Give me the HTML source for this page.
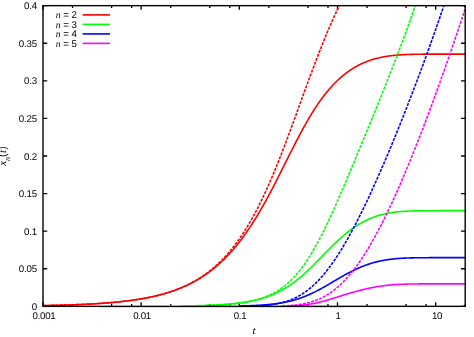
<!DOCTYPE html><html><head><meta charset="utf-8"><title>plot</title><style>
html,body{margin:0;padding:0;background:#fff}
#p{position:relative;width:474px;height:337px;overflow:hidden;background:#fff;font-family:"Liberation Sans",sans-serif;font-size:9.7px;color:#000;line-height:11px;text-rendering:geometricPrecision;will-change:transform}
.yl{position:absolute;left:0;width:37.0px;text-align:right;height:11px;letter-spacing:-0.15px;transform:rotate(0.02deg)}
.xl{position:absolute;top:311.1px;width:40px;text-align:center;height:11px;letter-spacing:-0.3px;transform:rotate(0.02deg)}
.lg{position:absolute;left:48.6px;width:28px;text-align:right;height:11px;white-space:nowrap;transform:rotate(0.02deg)}
.it{font-family:"Liberation Serif",serif;font-style:italic}
</style></head><body><div id="p">
<svg width="474" height="337" viewBox="0 0 474 337" style="position:absolute;left:0;top:0"><defs><clipPath id="c"><rect x="43.0" y="5.65" width="422.2" height="300.70000000000005"/></clipPath></defs><path d="M43.00,306.35 v-4.2 M43.00,5.65 v4.2 M72.55,306.35 v-2.4 M72.55,5.65 v2.4 M111.61,306.35 v-2.4 M111.61,5.65 v2.4 M131.65,306.35 v-2.4 M131.65,5.65 v2.4 M141.16,306.35 v-4.2 M141.16,5.65 v4.2 M170.71,306.35 v-2.4 M170.71,5.65 v2.4 M209.78,306.35 v-2.4 M209.78,5.65 v2.4 M229.81,306.35 v-2.4 M229.81,5.65 v2.4 M239.33,306.35 v-4.2 M239.33,5.65 v4.2 M268.87,306.35 v-2.4 M268.87,5.65 v2.4 M307.94,306.35 v-2.4 M307.94,5.65 v2.4 M327.97,306.35 v-2.4 M327.97,5.65 v2.4 M337.49,306.35 v-4.2 M337.49,5.65 v4.2 M367.04,306.35 v-2.4 M367.04,5.65 v2.4 M406.10,306.35 v-2.4 M406.10,5.65 v2.4 M426.14,306.35 v-2.4 M426.14,5.65 v2.4 M435.65,306.35 v-4.2 M435.65,5.65 v4.2 M465.20,306.35 v-2.4 M465.20,5.65 v2.4 M43.0,306.35 h4.2 M465.2,306.35 h-4.2 M43.0,268.76 h4.2 M465.2,268.76 h-4.2 M43.0,231.18 h4.2 M465.2,231.18 h-4.2 M43.0,193.59 h4.2 M465.2,193.59 h-4.2 M43.0,156.00 h4.2 M465.2,156.00 h-4.2 M43.0,118.41 h4.2 M465.2,118.41 h-4.2 M43.0,80.82 h4.2 M465.2,80.82 h-4.2 M43.0,43.24 h4.2 M465.2,43.24 h-4.2 M43.0,5.65 h4.2 M465.2,5.65 h-4.2" stroke="#000" stroke-width="1.3" fill="none"/><g clip-path="url(#c)" fill="none" stroke-linejoin="round"><path d="M43.0,305.58 L43.5,305.57 L44.0,305.56 L44.5,305.55 L45.0,305.54 L45.5,305.53 L46.0,305.52 L46.5,305.51 L47.0,305.50 L47.5,305.49 L48.0,305.48 L48.5,305.47 L49.0,305.46 L49.5,305.45 L50.0,305.44 L50.5,305.43 L51.0,305.42 L51.5,305.41 L52.0,305.40 L52.5,305.39 L53.0,305.38 L53.5,305.36 L54.0,305.35 L54.5,305.34 L55.0,305.33 L55.5,305.32 L56.0,305.30 L56.5,305.29 L57.0,305.28 L57.5,305.27 L58.0,305.26 L58.5,305.24 L59.0,305.23 L59.5,305.22 L60.0,305.20 L60.5,305.19 L61.0,305.18 L61.5,305.16 L62.0,305.15 L62.5,305.13 L63.0,305.12 L63.5,305.11 L64.0,305.09 L64.5,305.08 L65.0,305.06 L65.5,305.05 L66.0,305.03 L66.5,305.02 L67.0,305.00 L67.5,304.99 L68.0,304.97 L68.5,304.95 L69.0,304.94 L69.5,304.92 L70.0,304.90 L70.5,304.89 L71.0,304.87 L71.5,304.85 L72.0,304.84 L72.5,304.82 L73.0,304.80 L73.5,304.78 L74.0,304.76 L74.5,304.74 L75.0,304.73 L75.5,304.71 L76.0,304.69 L76.5,304.67 L77.0,304.65 L77.5,304.63 L78.0,304.61 L78.5,304.59 L79.0,304.57 L79.5,304.55 L80.0,304.53 L80.5,304.51 L81.0,304.48 L81.5,304.46 L82.0,304.44 L82.5,304.42 L83.0,304.40 L83.5,304.37 L84.0,304.35 L84.5,304.33 L85.0,304.30 L85.5,304.28 L86.0,304.25 L86.5,304.23 L87.0,304.21 L87.5,304.18 L88.0,304.16 L88.5,304.13 L89.0,304.10 L89.5,304.08 L90.0,304.05 L90.5,304.02 L91.0,304.00 L91.5,303.97 L92.0,303.94 L92.5,303.91 L93.0,303.89 L93.5,303.86 L94.0,303.83 L94.5,303.80 L95.0,303.77 L95.5,303.74 L96.0,303.71 L96.5,303.68 L97.0,303.65 L97.5,303.62 L98.0,303.58 L98.5,303.55 L99.0,303.52 L99.5,303.49 L100.0,303.45 L100.5,303.42 L101.0,303.39 L101.5,303.35 L102.0,303.32 L102.5,303.28 L103.0,303.24 L103.5,303.21 L104.0,303.17 L104.5,303.14 L105.0,303.10 L105.5,303.06 L106.0,303.02 L106.5,302.98 L107.0,302.94 L107.5,302.90 L108.0,302.86 L108.5,302.82 L109.0,302.78 L109.5,302.74 L110.0,302.70 L110.5,302.66 L111.0,302.61 L111.5,302.57 L112.0,302.53 L112.5,302.48 L113.0,302.44 L113.5,302.39 L114.0,302.35 L114.5,302.30 L115.0,302.25 L115.5,302.21 L116.0,302.16 L116.5,302.11 L117.0,302.06 L117.5,302.01 L118.0,301.96 L118.5,301.91 L119.0,301.86 L119.5,301.81 L120.0,301.75 L120.5,301.70 L121.0,301.65 L121.5,301.59 L122.0,301.54 L122.5,301.48 L123.0,301.42 L123.5,301.37 L124.0,301.31 L124.5,301.25 L125.0,301.19 L125.5,301.13 L126.0,301.07 L126.5,301.01 L127.0,300.95 L127.5,300.89 L128.0,300.82 L128.5,300.76 L129.0,300.70 L129.5,300.63 L130.0,300.56 L130.5,300.50 L131.0,300.43 L131.5,300.36 L132.0,300.29 L132.5,300.22 L133.0,300.15 L133.5,300.08 L134.0,300.01 L134.5,299.93 L135.0,299.86 L135.5,299.78 L136.0,299.71 L136.5,299.63 L137.0,299.55 L137.5,299.48 L138.0,299.40 L138.5,299.32 L139.0,299.24 L139.5,299.15 L140.0,299.07 L140.5,298.99 L141.0,298.90 L141.5,298.82 L142.0,298.73 L142.5,298.64 L143.0,298.55 L143.5,298.46 L144.0,298.37 L144.5,298.28 L145.0,298.19 L145.5,298.09 L146.0,298.00 L146.5,297.90 L147.0,297.81 L147.5,297.71 L148.0,297.61 L148.5,297.51 L149.0,297.41 L149.5,297.30 L150.0,297.20 L150.5,297.09 L151.0,296.99 L151.5,296.88 L152.0,296.77 L152.5,296.66 L153.0,296.55 L153.5,296.44 L154.0,296.33 L154.5,296.21 L155.0,296.09 L155.5,295.98 L156.0,295.86 L156.5,295.74 L157.0,295.62 L157.5,295.49 L158.0,295.37 L158.5,295.24 L159.0,295.12 L159.5,294.99 L160.0,294.86 L160.5,294.73 L161.0,294.60 L161.5,294.46 L162.0,294.33 L162.5,294.19 L163.0,294.05 L163.5,293.91 L164.0,293.77 L164.5,293.62 L165.0,293.48 L165.5,293.33 L166.0,293.18 L166.5,293.03 L167.0,292.88 L167.5,292.73 L168.0,292.58 L168.5,292.42 L169.0,292.26 L169.5,292.10 L170.0,291.94 L170.5,291.78 L171.0,291.61 L171.5,291.44 L172.0,291.27 L172.5,291.10 L173.0,290.93 L173.5,290.76 L174.0,290.58 L174.5,290.40 L175.0,290.22 L175.5,290.04 L176.0,289.85 L176.5,289.67 L177.0,289.48 L177.5,289.29 L178.0,289.10 L178.5,288.90 L179.0,288.70 L179.5,288.51 L180.0,288.30 L180.5,288.10 L181.0,287.90 L181.5,287.69 L182.0,287.48 L182.5,287.27 L183.0,287.05 L183.5,286.83 L184.0,286.62 L184.5,286.39 L185.0,286.17 L185.5,285.94 L186.0,285.72 L186.5,285.48 L187.0,285.25 L187.5,285.02 L188.0,284.78 L188.5,284.54 L189.0,284.29 L189.5,284.05 L190.0,283.80 L190.5,283.55 L191.0,283.29 L191.5,283.03 L192.0,282.78 L192.5,282.51 L193.0,282.25 L193.5,281.98 L194.0,281.71 L194.5,281.44 L195.0,281.16 L195.5,280.88 L196.0,280.60 L196.5,280.31 L197.0,280.03 L197.5,279.74 L198.0,279.44 L198.5,279.14 L199.0,278.84 L199.5,278.54 L200.0,278.23 L200.5,277.93 L201.0,277.61 L201.5,277.30 L202.0,276.98 L202.5,276.66 L203.0,276.33 L203.5,276.00 L204.0,275.67 L204.5,275.33 L205.0,274.99 L205.5,274.65 L206.0,274.31 L206.5,273.96 L207.0,273.60 L207.5,273.25 L208.0,272.89 L208.5,272.52 L209.0,272.16 L209.5,271.78 L210.0,271.41 L210.5,271.03 L211.0,270.65 L211.5,270.26 L212.0,269.87 L212.5,269.48 L213.0,269.08 L213.5,268.68 L214.0,268.28 L214.5,267.87 L215.0,267.45 L215.5,267.04 L216.0,266.62 L216.5,266.19 L217.0,265.76 L217.5,265.33 L218.0,264.89 L218.5,264.45 L219.0,264.00 L219.5,263.55 L220.0,263.10 L220.5,262.64 L221.0,262.18 L221.5,261.71 L222.0,261.24 L222.5,260.76 L223.0,260.28 L223.5,259.80 L224.0,259.31 L224.5,258.81 L225.0,258.31 L225.5,257.81 L226.0,257.30 L226.5,256.79 L227.0,256.27 L227.5,255.75 L228.0,255.23 L228.5,254.70 L229.0,254.16 L229.5,253.62 L230.0,253.07 L230.5,252.52 L231.0,251.97 L231.5,251.41 L232.0,250.84 L232.5,250.27 L233.0,249.70 L233.5,249.12 L234.0,248.54 L234.5,247.95 L235.0,247.35 L235.5,246.75 L236.0,246.15 L236.5,245.54 L237.0,244.92 L237.5,244.30 L238.0,243.68 L238.5,243.05 L239.0,242.41 L239.5,241.77 L240.0,241.13 L240.5,240.48 L241.0,239.82 L241.5,239.16 L242.0,238.50 L242.5,237.82 L243.0,237.15 L243.5,236.47 L244.0,235.78 L244.5,235.09 L245.0,234.39 L245.5,233.69 L246.0,232.98 L246.5,232.27 L247.0,231.55 L247.5,230.82 L248.0,230.09 L248.5,229.36 L249.0,228.62 L249.5,227.87 L250.0,227.12 L250.5,226.37 L251.0,225.61 L251.5,224.84 L252.0,224.07 L252.5,223.30 L253.0,222.51 L253.5,221.73 L254.0,220.94 L254.5,220.14 L255.0,219.34 L255.5,218.53 L256.0,217.72 L256.5,216.90 L257.0,216.08 L257.5,215.25 L258.0,214.42 L258.5,213.58 L259.0,212.74 L259.5,211.89 L260.0,211.04 L260.5,210.18 L261.0,209.32 L261.5,208.46 L262.0,207.59 L262.5,206.71 L263.0,205.83 L263.5,204.95 L264.0,204.06 L264.5,203.17 L265.0,202.27 L265.5,201.37 L266.0,200.46 L266.5,199.55 L267.0,198.64 L267.5,197.72 L268.0,196.80 L268.5,195.87 L269.0,194.94 L269.5,194.01 L270.0,193.07 L270.5,192.13 L271.0,191.18 L271.5,190.24 L272.0,189.28 L272.5,188.33 L273.0,187.37 L273.5,186.41 L274.0,185.45 L274.5,184.48 L275.0,183.51 L275.5,182.54 L276.0,181.56 L276.5,180.59 L277.0,179.61 L277.5,178.63 L278.0,177.64 L278.5,176.66 L279.0,175.67 L279.5,174.68 L280.0,173.69 L280.5,172.70 L281.0,171.70 L281.5,170.71 L282.0,169.71 L282.5,168.71 L283.0,167.71 L283.5,166.72 L284.0,165.72 L284.5,164.72 L285.0,163.71 L285.5,162.71 L286.0,161.71 L286.5,160.71 L287.0,159.71 L287.5,158.71 L288.0,157.71 L288.5,156.71 L289.0,155.72 L289.5,154.72 L290.0,153.72 L290.5,152.73 L291.0,151.74 L291.5,150.74 L292.0,149.75 L292.5,148.77 L293.0,147.78 L293.5,146.80 L294.0,145.82 L294.5,144.84 L295.0,143.86 L295.5,142.89 L296.0,141.92 L296.5,140.95 L297.0,139.98 L297.5,139.02 L298.0,138.06 L298.5,137.11 L299.0,136.16 L299.5,135.21 L300.0,134.27 L300.5,133.33 L301.0,132.40 L301.5,131.47 L302.0,130.54 L302.5,129.62 L303.0,128.71 L303.5,127.80 L304.0,126.89 L304.5,125.99 L305.0,125.10 L305.5,124.21 L306.0,123.32 L306.5,122.44 L307.0,121.57 L307.5,120.70 L308.0,119.84 L308.5,118.98 L309.0,118.13 L309.5,117.29 L310.0,116.45 L310.5,115.62 L311.0,114.79 L311.5,113.97 L312.0,113.16 L312.5,112.35 L313.0,111.55 L313.5,110.76 L314.0,109.97 L314.5,109.19 L315.0,108.42 L315.5,107.65 L316.0,106.89 L316.5,106.13 L317.0,105.39 L317.5,104.65 L318.0,103.91 L318.5,103.19 L319.0,102.47 L319.5,101.75 L320.0,101.05 L320.5,100.35 L321.0,99.65 L321.5,98.97 L322.0,98.29 L322.5,97.61 L323.0,96.95 L323.5,96.29 L324.0,95.64 L324.5,94.99 L325.0,94.35 L325.5,93.72 L326.0,93.10 L326.5,92.48 L327.0,91.87 L327.5,91.26 L328.0,90.66 L328.5,90.07 L329.0,89.49 L329.5,88.91 L330.0,88.34 L330.5,87.77 L331.0,87.21 L331.5,86.66 L332.0,86.11 L332.5,85.57 L333.0,85.04 L333.5,84.51 L334.0,83.99 L334.5,83.47 L335.0,82.96 L335.5,82.46 L336.0,81.96 L336.5,81.47 L337.0,80.99 L337.5,80.51 L338.0,80.03 L338.5,79.57 L339.0,79.10 L339.5,78.65 L340.0,78.20 L340.5,77.76 L341.0,77.32 L341.5,76.88 L342.0,76.46 L342.5,76.04 L343.0,75.62 L343.5,75.21 L344.0,74.80 L344.5,74.40 L345.0,74.01 L345.5,73.62 L346.0,73.24 L346.5,72.86 L347.0,72.49 L347.5,72.12 L348.0,71.76 L348.5,71.40 L349.0,71.05 L349.5,70.70 L350.0,70.36 L350.5,70.02 L351.0,69.69 L351.5,69.36 L352.0,69.04 L352.5,68.72 L353.0,68.41 L353.5,68.10 L354.0,67.80 L354.5,67.50 L355.0,67.20 L355.5,66.91 L356.0,66.63 L356.5,66.35 L357.0,66.07 L357.5,65.80 L358.0,65.53 L358.5,65.27 L359.0,65.01 L359.5,64.76 L360.0,64.51 L360.5,64.26 L361.0,64.02 L361.5,63.78 L362.0,63.55 L362.5,63.32 L363.0,63.10 L363.5,62.88 L364.0,62.66 L364.5,62.45 L365.0,62.24 L365.5,62.03 L366.0,61.83 L366.5,61.63 L367.0,61.44 L367.5,61.25 L368.0,61.06 L368.5,60.88 L369.0,60.70 L369.5,60.53 L370.0,60.35 L370.5,60.18 L371.0,60.02 L371.5,59.86 L372.0,59.70 L372.5,59.54 L373.0,59.39 L373.5,59.24 L374.0,59.10 L374.5,58.95 L375.0,58.81 L375.5,58.68 L376.0,58.54 L376.5,58.41 L377.0,58.29 L377.5,58.16 L378.0,58.04 L378.5,57.92 L379.0,57.80 L379.5,57.69 L380.0,57.58 L380.5,57.47 L381.0,57.37 L381.5,57.26 L382.0,57.16 L382.5,57.07 L383.0,56.97 L383.5,56.88 L384.0,56.79 L384.5,56.70 L385.0,56.61 L385.5,56.53 L386.0,56.45 L386.5,56.37 L387.0,56.29 L387.5,56.21 L388.0,56.14 L388.5,56.07 L389.0,56.00 L389.5,55.93 L390.0,55.87 L390.5,55.80 L391.0,55.74 L391.5,55.68 L392.0,55.62 L392.5,55.57 L393.0,55.51 L393.5,55.46 L394.0,55.41 L394.5,55.36 L395.0,55.31 L395.5,55.26 L396.0,55.22 L396.5,55.17 L397.0,55.13 L397.5,55.09 L398.0,55.05 L398.5,55.01 L399.0,54.97 L399.5,54.94 L400.0,54.90 L400.5,54.87 L401.0,54.84 L401.5,54.80 L402.0,54.77 L402.5,54.74 L403.0,54.72 L403.5,54.69 L404.0,54.66 L404.5,54.64 L405.0,54.61 L405.5,54.59 L406.0,54.57 L406.5,54.54 L407.0,54.52 L407.5,54.50 L408.0,54.48 L408.5,54.46 L409.0,54.45 L409.5,54.43 L410.0,54.41 L410.5,54.40 L411.0,54.38 L411.5,54.37 L412.0,54.35 L412.5,54.34 L413.0,54.33 L413.5,54.31 L414.0,54.30 L414.5,54.29 L415.0,54.28 L415.5,54.27 L416.0,54.26 L416.5,54.25 L417.0,54.24 L417.5,54.23 L418.0,54.22 L418.5,54.22 L419.0,54.21 L419.5,54.20 L420.0,54.20 L420.5,54.19 L421.0,54.18 L421.5,54.18 L422.0,54.17 L422.5,54.17 L423.0,54.16 L423.5,54.16 L424.0,54.15 L424.5,54.15 L425.0,54.14 L425.5,54.14 L426.0,54.14 L426.5,54.13 L427.0,54.13 L427.5,54.13 L428.0,54.12 L428.5,54.12 L429.0,54.12 L429.5,54.11 L430.0,54.11 L430.5,54.11 L431.0,54.11 L431.5,54.11 L432.0,54.10 L432.5,54.10 L433.0,54.10 L433.5,54.10 L434.0,54.10 L434.5,54.10 L435.0,54.09 L435.5,54.09 L436.0,54.09 L436.5,54.09 L437.0,54.09 L437.5,54.09 L438.0,54.09 L438.5,54.09 L439.0,54.09 L439.5,54.08 L440.0,54.08 L440.5,54.08 L441.0,54.08 L441.5,54.08 L442.0,54.08 L442.5,54.08 L443.0,54.08 L443.5,54.08 L444.0,54.08 L444.5,54.08 L445.0,54.08 L445.5,54.08 L446.0,54.08 L446.5,54.08 L447.0,54.08 L447.5,54.08 L448.0,54.08 L448.5,54.08 L449.0,54.08 L449.5,54.08 L450.0,54.08 L450.5,54.08 L451.0,54.08 L451.5,54.08 L452.0,54.08 L452.5,54.08 L453.0,54.08 L453.5,54.08 L454.0,54.08 L454.5,54.08 L455.0,54.08 L455.5,54.08 L456.0,54.08 L456.5,54.08 L457.0,54.08 L457.5,54.08 L458.0,54.08 L458.5,54.08 L459.0,54.08 L459.5,54.08 L460.0,54.08 L460.5,54.08 L461.0,54.08 L461.5,54.08 L462.0,54.08 L462.5,54.08 L463.0,54.08 L463.5,54.08 L464.0,54.08 L464.5,54.08 L465.0,54.08" stroke="#ff0000" stroke-width="1.6"/><path d="M43.0,305.56 L43.5,305.55 L44.0,305.54 L44.5,305.53 L45.0,305.52 L45.5,305.51 L46.0,305.50 L46.5,305.49 L47.0,305.48 L47.5,305.47 L48.0,305.46 L48.5,305.45 L49.0,305.44 L49.5,305.43 L50.0,305.42 L50.5,305.41 L51.0,305.40 L51.5,305.39 L52.0,305.38 L52.5,305.36 L53.0,305.35 L53.5,305.34 L54.0,305.33 L54.5,305.32 L55.0,305.31 L55.5,305.29 L56.0,305.28 L56.5,305.27 L57.0,305.26 L57.5,305.24 L58.0,305.23 L58.5,305.22 L59.0,305.21 L59.5,305.19 L60.0,305.18 L60.5,305.17 L61.0,305.15 L61.5,305.14 L62.0,305.13 L62.5,305.11 L63.0,305.10 L63.5,305.08 L64.0,305.07 L64.5,305.05 L65.0,305.04 L65.5,305.02 L66.0,305.01 L66.5,304.99 L67.0,304.98 L67.5,304.96 L68.0,304.94 L68.5,304.93 L69.0,304.91 L69.5,304.90 L70.0,304.88 L70.5,304.86 L71.0,304.85 L71.5,304.83 L72.0,304.81 L72.5,304.79 L73.0,304.77 L73.5,304.76 L74.0,304.74 L74.5,304.72 L75.0,304.70 L75.5,304.68 L76.0,304.66 L76.5,304.64 L77.0,304.62 L77.5,304.60 L78.0,304.58 L78.5,304.56 L79.0,304.54 L79.5,304.52 L80.0,304.50 L80.5,304.48 L81.0,304.46 L81.5,304.44 L82.0,304.41 L82.5,304.39 L83.0,304.37 L83.5,304.35 L84.0,304.32 L84.5,304.30 L85.0,304.28 L85.5,304.25 L86.0,304.23 L86.5,304.20 L87.0,304.18 L87.5,304.16 L88.0,304.13 L88.5,304.10 L89.0,304.08 L89.5,304.05 L90.0,304.03 L90.5,304.00 L91.0,303.97 L91.5,303.94 L92.0,303.92 L92.5,303.89 L93.0,303.86 L93.5,303.83 L94.0,303.80 L94.5,303.77 L95.0,303.74 L95.5,303.71 L96.0,303.68 L96.5,303.65 L97.0,303.62 L97.5,303.59 L98.0,303.56 L98.5,303.53 L99.0,303.49 L99.5,303.46 L100.0,303.43 L100.5,303.40 L101.0,303.36 L101.5,303.33 L102.0,303.29 L102.5,303.26 L103.0,303.22 L103.5,303.19 L104.0,303.15 L104.5,303.11 L105.0,303.08 L105.5,303.04 L106.0,303.00 L106.5,302.96 L107.0,302.92 L107.5,302.88 L108.0,302.84 L108.5,302.80 L109.0,302.76 L109.5,302.72 L110.0,302.68 L110.5,302.64 L111.0,302.59 L111.5,302.55 L112.0,302.51 L112.5,302.46 L113.0,302.42 L113.5,302.37 L114.0,302.33 L114.5,302.28 L115.0,302.23 L115.5,302.19 L116.0,302.14 L116.5,302.09 L117.0,302.04 L117.5,301.99 L118.0,301.94 L118.5,301.89 L119.0,301.84 L119.5,301.79 L120.0,301.74 L120.5,301.68 L121.0,301.63 L121.5,301.57 L122.0,301.52 L122.5,301.46 L123.0,301.41 L123.5,301.35 L124.0,301.29 L124.5,301.24 L125.0,301.18 L125.5,301.12 L126.0,301.06 L126.5,301.00 L127.0,300.94 L127.5,300.87 L128.0,300.81 L128.5,300.75 L129.0,300.68 L129.5,300.62 L130.0,300.55 L130.5,300.48 L131.0,300.42 L131.5,300.35 L132.0,300.28 L132.5,300.21 L133.0,300.14 L133.5,300.07 L134.0,300.00 L134.5,299.92 L135.0,299.85 L135.5,299.78 L136.0,299.70 L136.5,299.62 L137.0,299.55 L137.5,299.47 L138.0,299.39 L138.5,299.31 L139.0,299.23 L139.5,299.15 L140.0,299.06 L140.5,298.98 L141.0,298.90 L141.5,298.81 L142.0,298.72 L142.5,298.64 L143.0,298.55 L143.5,298.46 L144.0,298.37 L144.5,298.28 L145.0,298.18 L145.5,298.09 L146.0,297.99 L146.5,297.90 L147.0,297.80 L147.5,297.70 L148.0,297.60 L148.5,297.50 L149.0,297.40 L149.5,297.30 L150.0,297.20 L150.5,297.09 L151.0,296.99 L151.5,296.88 L152.0,296.77 L152.5,296.66 L153.0,296.55 L153.5,296.44 L154.0,296.32 L154.5,296.21 L155.0,296.09 L155.5,295.97 L156.0,295.85 L156.5,295.73 L157.0,295.61 L157.5,295.49 L158.0,295.37 L158.5,295.24 L159.0,295.11 L159.5,294.98 L160.0,294.85 L160.5,294.72 L161.0,294.59 L161.5,294.45 L162.0,294.32 L162.5,294.18 L163.0,294.04 L163.5,293.90 L164.0,293.76 L164.5,293.61 L165.0,293.47 L165.5,293.32 L166.0,293.17 L166.5,293.02 L167.0,292.87 L167.5,292.71 L168.0,292.56 L168.5,292.40 L169.0,292.24 L169.5,292.08 L170.0,291.92 L170.5,291.75 L171.0,291.58 L171.5,291.42 L172.0,291.24 L172.5,291.07 L173.0,290.90 L173.5,290.72 L174.0,290.54 L174.5,290.36 L175.0,290.18 L175.5,290.00 L176.0,289.81 L176.5,289.62 L177.0,289.43 L177.5,289.24 L178.0,289.04 L178.5,288.84 L179.0,288.64 L179.5,288.44 L180.0,288.24 L180.5,288.03 L181.0,287.82 L181.5,287.61 L182.0,287.40 L182.5,287.18 L183.0,286.96 L183.5,286.74 L184.0,286.52 L184.5,286.29 L185.0,286.07 L185.5,285.84 L186.0,285.60 L186.5,285.37 L187.0,285.13 L187.5,284.89 L188.0,284.64 L188.5,284.40 L189.0,284.15 L189.5,283.89 L190.0,283.64 L190.5,283.38 L191.0,283.12 L191.5,282.86 L192.0,282.59 L192.5,282.32 L193.0,282.05 L193.5,281.77 L194.0,281.50 L194.5,281.21 L195.0,280.93 L195.5,280.64 L196.0,280.35 L196.5,280.06 L197.0,279.76 L197.5,279.46 L198.0,279.15 L198.5,278.85 L199.0,278.54 L199.5,278.22 L200.0,277.90 L200.5,277.58 L201.0,277.26 L201.5,276.93 L202.0,276.60 L202.5,276.26 L203.0,275.93 L203.5,275.58 L204.0,275.24 L204.5,274.89 L205.0,274.53 L205.5,274.17 L206.0,273.81 L206.5,273.45 L207.0,273.08 L207.5,272.71 L208.0,272.33 L208.5,271.95 L209.0,271.56 L209.5,271.17 L210.0,270.78 L210.5,270.38 L211.0,269.98 L211.5,269.57 L212.0,269.16 L212.5,268.74 L213.0,268.32 L213.5,267.90 L214.0,267.47 L214.5,267.04 L215.0,266.60 L215.5,266.16 L216.0,265.71 L216.5,265.26 L217.0,264.80 L217.5,264.34 L218.0,263.87 L218.5,263.40 L219.0,262.93 L219.5,262.45 L220.0,261.96 L220.5,261.47 L221.0,260.97 L221.5,260.47 L222.0,259.97 L222.5,259.45 L223.0,258.94 L223.5,258.42 L224.0,257.89 L224.5,257.36 L225.0,256.82 L225.5,256.27 L226.0,255.72 L226.5,255.17 L227.0,254.61 L227.5,254.04 L228.0,253.47 L228.5,252.89 L229.0,252.31 L229.5,251.72 L230.0,251.13 L230.5,250.53 L231.0,249.92 L231.5,249.31 L232.0,248.69 L232.5,248.06 L233.0,247.43 L233.5,246.80 L234.0,246.15 L234.5,245.50 L235.0,244.85 L235.5,244.19 L236.0,243.52 L236.5,242.84 L237.0,242.16 L237.5,241.48 L238.0,240.78 L238.5,240.08 L239.0,239.38 L239.5,238.66 L240.0,237.94 L240.5,237.22 L241.0,236.48 L241.5,235.74 L242.0,234.99 L242.5,234.24 L243.0,233.48 L243.5,232.71 L244.0,231.94 L244.5,231.16 L245.0,230.37 L245.5,229.57 L246.0,228.77 L246.5,227.96 L247.0,227.15 L247.5,226.32 L248.0,225.49 L248.5,224.66 L249.0,223.81 L249.5,222.96 L250.0,222.10 L250.5,221.23 L251.0,220.36 L251.5,219.48 L252.0,218.59 L252.5,217.70 L253.0,216.79 L253.5,215.88 L254.0,214.97 L254.5,214.04 L255.0,213.11 L255.5,212.17 L256.0,211.22 L256.5,210.27 L257.0,209.31 L257.5,208.34 L258.0,207.37 L258.5,206.38 L259.0,205.39 L259.5,204.39 L260.0,203.39 L260.5,202.38 L261.0,201.36 L261.5,200.33 L262.0,199.30 L262.5,198.26 L263.0,197.21 L263.5,196.15 L264.0,195.09 L264.5,194.02 L265.0,192.94 L265.5,191.86 L266.0,190.77 L266.5,189.67 L267.0,188.56 L267.5,187.45 L268.0,186.33 L268.5,185.21 L269.0,184.07 L269.5,182.93 L270.0,181.79 L270.5,180.64 L271.0,179.48 L271.5,178.31 L272.0,177.14 L272.5,175.96 L273.0,174.77 L273.5,173.58 L274.0,172.38 L274.5,171.18 L275.0,169.97 L275.5,168.75 L276.0,167.53 L276.5,166.30 L277.0,165.07 L277.5,163.83 L278.0,162.59 L278.5,161.34 L279.0,160.08 L279.5,158.82 L280.0,157.55 L280.5,156.28 L281.0,155.00 L281.5,153.72 L282.0,152.44 L282.5,151.14 L283.0,149.85 L283.5,148.55 L284.0,147.24 L284.5,145.93 L285.0,144.62 L285.5,143.30 L286.0,141.98 L286.5,140.66 L287.0,139.33 L287.5,137.99 L288.0,136.66 L288.5,135.32 L289.0,133.98 L289.5,132.63 L290.0,131.28 L290.5,129.93 L291.0,128.58 L291.5,127.22 L292.0,125.86 L292.5,124.50 L293.0,123.14 L293.5,121.77 L294.0,120.40 L294.5,119.04 L295.0,117.66 L295.5,116.29 L296.0,114.92 L296.5,113.55 L297.0,112.17 L297.5,110.79 L298.0,109.42 L298.5,108.04 L299.0,106.66 L299.5,105.28 L300.0,103.91 L300.5,102.53 L301.0,101.15 L301.5,99.77 L302.0,98.40 L302.5,97.02 L303.0,95.64 L303.5,94.27 L304.0,92.90 L304.5,91.52 L305.0,90.15 L305.5,88.78 L306.0,87.42 L306.5,86.05 L307.0,84.69 L307.5,83.32 L308.0,81.96 L308.5,80.61 L309.0,79.25 L309.5,77.90 L310.0,76.55 L310.5,75.20 L311.0,73.86 L311.5,72.52 L312.0,71.18 L312.5,69.84 L313.0,68.51 L313.5,67.18 L314.0,65.86 L314.5,64.54 L315.0,63.22 L315.5,61.91 L316.0,60.60 L316.5,59.30 L317.0,58.00 L317.5,56.71 L318.0,55.42 L318.5,54.13 L319.0,52.85 L319.5,51.57 L320.0,50.30 L320.5,49.03 L321.0,47.77 L321.5,46.52 L322.0,45.26 L322.5,44.02 L323.0,42.78 L323.5,41.54 L324.0,40.31 L324.5,39.09 L325.0,37.87 L325.5,36.66 L326.0,35.45 L326.5,34.25 L327.0,33.05 L327.5,31.86 L328.0,30.68 L328.5,29.50 L329.0,28.33 L329.5,27.17 L330.0,26.01 L330.5,24.85 L331.0,23.71 L331.5,22.57 L332.0,21.43 L332.5,20.30 L333.0,19.18 L333.5,18.06 L334.0,16.95 L334.5,15.85 L335.0,14.75 L335.5,13.66 L336.0,12.58 L336.5,11.50 L337.0,10.43 L337.5,9.36 L338.0,8.30 L338.5,7.25 L339.0,6.21 L339.5,5.17 L340.0,4.13 L340.5,3.10 L341.0,2.08 L341.5,1.07 L342.0,0.06 L342.5,-0.94 L343.0,-1.94" stroke="#ff0000" stroke-width="1.6" stroke-dasharray="3.0,1.2"/><path d="M181.0,305.99 L181.5,305.99 L182.0,305.98 L182.5,305.97 L183.0,305.97 L183.5,305.96 L184.0,305.95 L184.5,305.94 L185.0,305.93 L185.5,305.93 L186.0,305.92 L186.5,305.91 L187.0,305.90 L187.5,305.89 L188.0,305.88 L188.5,305.87 L189.0,305.86 L189.5,305.85 L190.0,305.84 L190.5,305.83 L191.0,305.82 L191.5,305.81 L192.0,305.80 L192.5,305.79 L193.0,305.78 L193.5,305.77 L194.0,305.76 L194.5,305.75 L195.0,305.74 L195.5,305.72 L196.0,305.71 L196.5,305.70 L197.0,305.69 L197.5,305.67 L198.0,305.66 L198.5,305.65 L199.0,305.63 L199.5,305.62 L200.0,305.60 L200.5,305.59 L201.0,305.57 L201.5,305.56 L202.0,305.54 L202.5,305.53 L203.0,305.51 L203.5,305.49 L204.0,305.48 L204.5,305.46 L205.0,305.44 L205.5,305.42 L206.0,305.41 L206.5,305.39 L207.0,305.37 L207.5,305.35 L208.0,305.33 L208.5,305.31 L209.0,305.29 L209.5,305.27 L210.0,305.25 L210.5,305.23 L211.0,305.20 L211.5,305.18 L212.0,305.16 L212.5,305.13 L213.0,305.11 L213.5,305.09 L214.0,305.06 L214.5,305.04 L215.0,305.01 L215.5,304.98 L216.0,304.96 L216.5,304.93 L217.0,304.90 L217.5,304.87 L218.0,304.84 L218.5,304.82 L219.0,304.79 L219.5,304.75 L220.0,304.72 L220.5,304.69 L221.0,304.66 L221.5,304.63 L222.0,304.59 L222.5,304.56 L223.0,304.52 L223.5,304.49 L224.0,304.45 L224.5,304.41 L225.0,304.38 L225.5,304.34 L226.0,304.30 L226.5,304.26 L227.0,304.22 L227.5,304.18 L228.0,304.13 L228.5,304.09 L229.0,304.05 L229.5,304.00 L230.0,303.96 L230.5,303.91 L231.0,303.86 L231.5,303.81 L232.0,303.77 L232.5,303.71 L233.0,303.66 L233.5,303.61 L234.0,303.56 L234.5,303.50 L235.0,303.45 L235.5,303.39 L236.0,303.34 L236.5,303.28 L237.0,303.22 L237.5,303.16 L238.0,303.10 L238.5,303.03 L239.0,302.97 L239.5,302.90 L240.0,302.84 L240.5,302.77 L241.0,302.70 L241.5,302.63 L242.0,302.56 L242.5,302.49 L243.0,302.41 L243.5,302.34 L244.0,302.26 L244.5,302.18 L245.0,302.10 L245.5,302.02 L246.0,301.94 L246.5,301.85 L247.0,301.77 L247.5,301.68 L248.0,301.59 L248.5,301.50 L249.0,301.41 L249.5,301.31 L250.0,301.22 L250.5,301.12 L251.0,301.02 L251.5,300.92 L252.0,300.82 L252.5,300.71 L253.0,300.60 L253.5,300.50 L254.0,300.39 L254.5,300.27 L255.0,300.16 L255.5,300.04 L256.0,299.92 L256.5,299.80 L257.0,299.68 L257.5,299.55 L258.0,299.43 L258.5,299.30 L259.0,299.17 L259.5,299.03 L260.0,298.90 L260.5,298.76 L261.0,298.62 L261.5,298.47 L262.0,298.33 L262.5,298.18 L263.0,298.03 L263.5,297.87 L264.0,297.72 L264.5,297.56 L265.0,297.40 L265.5,297.23 L266.0,297.06 L266.5,296.89 L267.0,296.72 L267.5,296.55 L268.0,296.37 L268.5,296.19 L269.0,296.00 L269.5,295.82 L270.0,295.62 L270.5,295.43 L271.0,295.23 L271.5,295.03 L272.0,294.83 L272.5,294.63 L273.0,294.42 L273.5,294.20 L274.0,293.99 L274.5,293.77 L275.0,293.54 L275.5,293.32 L276.0,293.09 L276.5,292.86 L277.0,292.62 L277.5,292.38 L278.0,292.13 L278.5,291.89 L279.0,291.64 L279.5,291.38 L280.0,291.12 L280.5,290.86 L281.0,290.59 L281.5,290.32 L282.0,290.05 L282.5,289.77 L283.0,289.49 L283.5,289.21 L284.0,288.92 L284.5,288.62 L285.0,288.33 L285.5,288.03 L286.0,287.72 L286.5,287.41 L287.0,287.10 L287.5,286.78 L288.0,286.46 L288.5,286.14 L289.0,285.81 L289.5,285.47 L290.0,285.14 L290.5,284.79 L291.0,284.45 L291.5,284.10 L292.0,283.75 L292.5,283.39 L293.0,283.03 L293.5,282.66 L294.0,282.29 L294.5,281.92 L295.0,281.54 L295.5,281.16 L296.0,280.77 L296.5,280.38 L297.0,279.99 L297.5,279.59 L298.0,279.19 L298.5,278.78 L299.0,278.37 L299.5,277.96 L300.0,277.54 L300.5,277.12 L301.0,276.70 L301.5,276.27 L302.0,275.84 L302.5,275.40 L303.0,274.96 L303.5,274.52 L304.0,274.07 L304.5,273.63 L305.0,273.17 L305.5,272.72 L306.0,272.26 L306.5,271.80 L307.0,271.33 L307.5,270.86 L308.0,270.39 L308.5,269.92 L309.0,269.44 L309.5,268.97 L310.0,268.48 L310.5,268.00 L311.0,267.51 L311.5,267.03 L312.0,266.53 L312.5,266.04 L313.0,265.55 L313.5,265.05 L314.0,264.55 L314.5,264.05 L315.0,263.55 L315.5,263.04 L316.0,262.54 L316.5,262.03 L317.0,261.53 L317.5,261.02 L318.0,260.51 L318.5,260.00 L319.0,259.48 L319.5,258.97 L320.0,258.46 L320.5,257.95 L321.0,257.43 L321.5,256.92 L322.0,256.40 L322.5,255.89 L323.0,255.38 L323.5,254.86 L324.0,254.35 L324.5,253.84 L325.0,253.32 L325.5,252.81 L326.0,252.30 L326.5,251.79 L327.0,251.28 L327.5,250.77 L328.0,250.26 L328.5,249.76 L329.0,249.25 L329.5,248.75 L330.0,248.25 L330.5,247.75 L331.0,247.25 L331.5,246.75 L332.0,246.26 L332.5,245.77 L333.0,245.28 L333.5,244.79 L334.0,244.30 L334.5,243.82 L335.0,243.34 L335.5,242.86 L336.0,242.38 L336.5,241.91 L337.0,241.44 L337.5,240.97 L338.0,240.50 L338.5,240.04 L339.0,239.58 L339.5,239.13 L340.0,238.68 L340.5,238.23 L341.0,237.78 L341.5,237.34 L342.0,236.90 L342.5,236.46 L343.0,236.03 L343.5,235.60 L344.0,235.18 L344.5,234.76 L345.0,234.34 L345.5,233.92 L346.0,233.51 L346.5,233.11 L347.0,232.71 L347.5,232.31 L348.0,231.91 L348.5,231.52 L349.0,231.13 L349.5,230.75 L350.0,230.37 L350.5,230.00 L351.0,229.63 L351.5,229.26 L352.0,228.90 L352.5,228.54 L353.0,228.19 L353.5,227.84 L354.0,227.49 L354.5,227.15 L355.0,226.81 L355.5,226.48 L356.0,226.15 L356.5,225.82 L357.0,225.50 L357.5,225.19 L358.0,224.87 L358.5,224.56 L359.0,224.26 L359.5,223.96 L360.0,223.67 L360.5,223.37 L361.0,223.09 L361.5,222.80 L362.0,222.53 L362.5,222.25 L363.0,221.98 L363.5,221.71 L364.0,221.45 L364.5,221.19 L365.0,220.94 L365.5,220.69 L366.0,220.44 L366.5,220.20 L367.0,219.96 L367.5,219.73 L368.0,219.50 L368.5,219.27 L369.0,219.05 L369.5,218.83 L370.0,218.62 L370.5,218.41 L371.0,218.20 L371.5,218.00 L372.0,217.80 L372.5,217.60 L373.0,217.41 L373.5,217.22 L374.0,217.04 L374.5,216.86 L375.0,216.68 L375.5,216.51 L376.0,216.34 L376.5,216.17 L377.0,216.01 L377.5,215.85 L378.0,215.70 L378.5,215.54 L379.0,215.39 L379.5,215.25 L380.0,215.11 L380.5,214.97 L381.0,214.83 L381.5,214.70 L382.0,214.57 L382.5,214.44 L383.0,214.32 L383.5,214.20 L384.0,214.08 L384.5,213.96 L385.0,213.85 L385.5,213.74 L386.0,213.64 L386.5,213.53 L387.0,213.43 L387.5,213.33 L388.0,213.24 L388.5,213.15 L389.0,213.06 L389.5,212.97 L390.0,212.88 L390.5,212.80 L391.0,212.72 L391.5,212.64 L392.0,212.57 L392.5,212.49 L393.0,212.42 L393.5,212.35 L394.0,212.28 L394.5,212.22 L395.0,212.16 L395.5,212.10 L396.0,212.04 L396.5,211.98 L397.0,211.93 L397.5,211.87 L398.0,211.82 L398.5,211.77 L399.0,211.72 L399.5,211.68 L400.0,211.63 L400.5,211.59 L401.0,211.55 L401.5,211.51 L402.0,211.47 L402.5,211.43 L403.0,211.40 L403.5,211.36 L404.0,211.33 L404.5,211.30 L405.0,211.27 L405.5,211.24 L406.0,211.21 L406.5,211.18 L407.0,211.16 L407.5,211.13 L408.0,211.11 L408.5,211.09 L409.0,211.06 L409.5,211.04 L410.0,211.02 L410.5,211.00 L411.0,210.99 L411.5,210.97 L412.0,210.95 L412.5,210.94 L413.0,210.92 L413.5,210.91 L414.0,210.89 L414.5,210.88 L415.0,210.87 L415.5,210.86 L416.0,210.85 L416.5,210.84 L417.0,210.83 L417.5,210.82 L418.0,210.81 L418.5,210.80 L419.0,210.79 L419.5,210.78 L420.0,210.78 L420.5,210.77 L421.0,210.76 L421.5,210.76 L422.0,210.75 L422.5,210.75 L423.0,210.74 L423.5,210.74 L424.0,210.73 L424.5,210.73 L425.0,210.72 L425.5,210.72 L426.0,210.72 L426.5,210.71 L427.0,210.71 L427.5,210.71 L428.0,210.70 L428.5,210.70 L429.0,210.70 L429.5,210.70 L430.0,210.70 L430.5,210.69 L431.0,210.69 L431.5,210.69 L432.0,210.69 L432.5,210.69 L433.0,210.69 L433.5,210.68 L434.0,210.68 L434.5,210.68 L435.0,210.68 L435.5,210.68 L436.0,210.68 L436.5,210.68 L437.0,210.68 L437.5,210.68 L438.0,210.68 L438.5,210.68 L439.0,210.68 L439.5,210.68 L440.0,210.68 L440.5,210.67 L441.0,210.67 L441.5,210.67 L442.0,210.67 L442.5,210.67 L443.0,210.67 L443.5,210.67 L444.0,210.67 L444.5,210.67 L445.0,210.67 L445.5,210.67 L446.0,210.67 L446.5,210.67 L447.0,210.67 L447.5,210.67 L448.0,210.67 L448.5,210.67 L449.0,210.67 L449.5,210.67 L450.0,210.67 L450.5,210.67 L451.0,210.67 L451.5,210.67 L452.0,210.67 L452.5,210.67 L453.0,210.67 L453.5,210.67 L454.0,210.67 L454.5,210.67 L455.0,210.67 L455.5,210.67 L456.0,210.67 L456.5,210.67 L457.0,210.67 L457.5,210.67 L458.0,210.67 L458.5,210.67 L459.0,210.67 L459.5,210.67 L460.0,210.67 L460.5,210.67 L461.0,210.67 L461.5,210.67 L462.0,210.67 L462.5,210.67 L463.0,210.67 L463.5,210.67 L464.0,210.67 L464.5,210.67 L465.0,210.67" stroke="#00ff00" stroke-width="1.6"/><path d="M191.0,305.99 L191.5,305.99 L192.0,305.98 L192.5,305.97 L193.0,305.96 L193.5,305.95 L194.0,305.94 L194.5,305.93 L195.0,305.92 L195.5,305.92 L196.0,305.91 L196.5,305.90 L197.0,305.89 L197.5,305.87 L198.0,305.86 L198.5,305.85 L199.0,305.84 L199.5,305.83 L200.0,305.82 L200.5,305.81 L201.0,305.79 L201.5,305.78 L202.0,305.77 L202.5,305.76 L203.0,305.74 L203.5,305.73 L204.0,305.71 L204.5,305.70 L205.0,305.69 L205.5,305.67 L206.0,305.66 L206.5,305.64 L207.0,305.62 L207.5,305.61 L208.0,305.59 L208.5,305.57 L209.0,305.56 L209.5,305.54 L210.0,305.52 L210.5,305.50 L211.0,305.48 L211.5,305.46 L212.0,305.44 L212.5,305.42 L213.0,305.40 L213.5,305.38 L214.0,305.36 L214.5,305.34 L215.0,305.31 L215.5,305.29 L216.0,305.27 L216.5,305.24 L217.0,305.22 L217.5,305.19 L218.0,305.16 L218.5,305.14 L219.0,305.11 L219.5,305.08 L220.0,305.05 L220.5,305.02 L221.0,305.00 L221.5,304.96 L222.0,304.93 L222.5,304.90 L223.0,304.87 L223.5,304.84 L224.0,304.80 L224.5,304.77 L225.0,304.73 L225.5,304.70 L226.0,304.66 L226.5,304.62 L227.0,304.58 L227.5,304.54 L228.0,304.50 L228.5,304.46 L229.0,304.42 L229.5,304.38 L230.0,304.33 L230.5,304.29 L231.0,304.24 L231.5,304.19 L232.0,304.15 L232.5,304.10 L233.0,304.05 L233.5,303.99 L234.0,303.94 L234.5,303.89 L235.0,303.83 L235.5,303.78 L236.0,303.72 L236.5,303.66 L237.0,303.60 L237.5,303.54 L238.0,303.48 L238.5,303.41 L239.0,303.35 L239.5,303.28 L240.0,303.22 L240.5,303.15 L241.0,303.08 L241.5,303.00 L242.0,302.93 L242.5,302.85 L243.0,302.78 L243.5,302.70 L244.0,302.62 L244.5,302.53 L245.0,302.45 L245.5,302.36 L246.0,302.28 L246.5,302.19 L247.0,302.09 L247.5,302.00 L248.0,301.91 L248.5,301.81 L249.0,301.71 L249.5,301.61 L250.0,301.50 L250.5,301.40 L251.0,301.29 L251.5,301.18 L252.0,301.07 L252.5,300.95 L253.0,300.83 L253.5,300.71 L254.0,300.59 L254.5,300.46 L255.0,300.34 L255.5,300.21 L256.0,300.07 L256.5,299.94 L257.0,299.80 L257.5,299.66 L258.0,299.51 L258.5,299.36 L259.0,299.21 L259.5,299.06 L260.0,298.90 L260.5,298.74 L261.0,298.58 L261.5,298.41 L262.0,298.24 L262.5,298.07 L263.0,297.89 L263.5,297.71 L264.0,297.53 L264.5,297.34 L265.0,297.15 L265.5,296.95 L266.0,296.76 L266.5,296.55 L267.0,296.34 L267.5,296.13 L268.0,295.92 L268.5,295.70 L269.0,295.48 L269.5,295.25 L270.0,295.01 L270.5,294.78 L271.0,294.54 L271.5,294.29 L272.0,294.04 L272.5,293.78 L273.0,293.52 L273.5,293.26 L274.0,292.99 L274.5,292.71 L275.0,292.43 L275.5,292.14 L276.0,291.85 L276.5,291.55 L277.0,291.25 L277.5,290.94 L278.0,290.63 L278.5,290.31 L279.0,289.99 L279.5,289.66 L280.0,289.32 L280.5,288.98 L281.0,288.63 L281.5,288.27 L282.0,287.91 L282.5,287.55 L283.0,287.17 L283.5,286.79 L284.0,286.41 L284.5,286.01 L285.0,285.61 L285.5,285.21 L286.0,284.79 L286.5,284.37 L287.0,283.94 L287.5,283.51 L288.0,283.07 L288.5,282.62 L289.0,282.16 L289.5,281.70 L290.0,281.23 L290.5,280.75 L291.0,280.26 L291.5,279.77 L292.0,279.27 L292.5,278.76 L293.0,278.24 L293.5,277.72 L294.0,277.19 L294.5,276.65 L295.0,276.10 L295.5,275.54 L296.0,274.98 L296.5,274.41 L297.0,273.83 L297.5,273.24 L298.0,272.64 L298.5,272.04 L299.0,271.42 L299.5,270.80 L300.0,270.17 L300.5,269.53 L301.0,268.89 L301.5,268.23 L302.0,267.57 L302.5,266.89 L303.0,266.21 L303.5,265.52 L304.0,264.83 L304.5,264.12 L305.0,263.40 L305.5,262.68 L306.0,261.95 L306.5,261.21 L307.0,260.46 L307.5,259.70 L308.0,258.94 L308.5,258.16 L309.0,257.38 L309.5,256.59 L310.0,255.79 L310.5,254.98 L311.0,254.16 L311.5,253.34 L312.0,252.51 L312.5,251.66 L313.0,250.82 L313.5,249.96 L314.0,249.09 L314.5,248.22 L315.0,247.34 L315.5,246.45 L316.0,245.55 L316.5,244.65 L317.0,243.74 L317.5,242.82 L318.0,241.89 L318.5,240.96 L319.0,240.02 L319.5,239.07 L320.0,238.11 L320.5,237.15 L321.0,236.18 L321.5,235.20 L322.0,234.22 L322.5,233.23 L323.0,232.23 L323.5,231.23 L324.0,230.22 L324.5,229.20 L325.0,228.18 L325.5,227.15 L326.0,226.12 L326.5,225.08 L327.0,224.03 L327.5,222.98 L328.0,221.92 L328.5,220.86 L329.0,219.79 L329.5,218.72 L330.0,217.64 L330.5,216.56 L331.0,215.47 L331.5,214.38 L332.0,213.29 L332.5,212.19 L333.0,211.08 L333.5,209.97 L334.0,208.86 L334.5,207.74 L335.0,206.62 L335.5,205.49 L336.0,204.37 L336.5,203.23 L337.0,202.10 L337.5,200.96 L338.0,199.82 L338.5,198.67 L339.0,197.52 L339.5,196.37 L340.0,195.22 L340.5,194.06 L341.0,192.90 L341.5,191.74 L342.0,190.58 L342.5,189.41 L343.0,188.24 L343.5,187.07 L344.0,185.90 L344.5,184.73 L345.0,183.55 L345.5,182.37 L346.0,181.19 L346.5,180.01 L347.0,178.83 L347.5,177.64 L348.0,176.46 L348.5,175.27 L349.0,174.08 L349.5,172.89 L350.0,171.70 L350.5,170.51 L351.0,169.32 L351.5,168.12 L352.0,166.93 L352.5,165.73 L353.0,164.53 L353.5,163.34 L354.0,162.14 L354.5,160.94 L355.0,159.74 L355.5,158.54 L356.0,157.34 L356.5,156.13 L357.0,154.93 L357.5,153.73 L358.0,152.53 L358.5,151.32 L359.0,150.12 L359.5,148.91 L360.0,147.71 L360.5,146.50 L361.0,145.29 L361.5,144.09 L362.0,142.88 L362.5,141.67 L363.0,140.46 L363.5,139.25 L364.0,138.04 L364.5,136.83 L365.0,135.62 L365.5,134.41 L366.0,133.20 L366.5,131.99 L367.0,130.78 L367.5,129.56 L368.0,128.35 L368.5,127.14 L369.0,125.92 L369.5,124.71 L370.0,123.49 L370.5,122.27 L371.0,121.06 L371.5,119.84 L372.0,118.62 L372.5,117.40 L373.0,116.18 L373.5,114.96 L374.0,113.74 L374.5,112.51 L375.0,111.29 L375.5,110.06 L376.0,108.84 L376.5,107.61 L377.0,106.38 L377.5,105.15 L378.0,103.92 L378.5,102.69 L379.0,101.46 L379.5,100.23 L380.0,98.99 L380.5,97.75 L381.0,96.52 L381.5,95.28 L382.0,94.04 L382.5,92.79 L383.0,91.55 L383.5,90.31 L384.0,89.06 L384.5,87.81 L385.0,86.56 L385.5,85.31 L386.0,84.05 L386.5,82.80 L387.0,81.54 L387.5,80.28 L388.0,79.02 L388.5,77.75 L389.0,76.49 L389.5,75.22 L390.0,73.95 L390.5,72.67 L391.0,71.40 L391.5,70.12 L392.0,68.84 L392.5,67.56 L393.0,66.27 L393.5,64.98 L394.0,63.69 L394.5,62.40 L395.0,61.11 L395.5,59.81 L396.0,58.51 L396.5,57.20 L397.0,55.90 L397.5,54.59 L398.0,53.27 L398.5,51.96 L399.0,50.64 L399.5,49.31 L400.0,47.99 L400.5,46.66 L401.0,45.33 L401.5,43.99 L402.0,42.65 L402.5,41.31 L403.0,39.96 L403.5,38.62 L404.0,37.26 L404.5,35.91 L405.0,34.54 L405.5,33.18 L406.0,31.81 L406.5,30.44 L407.0,29.06 L407.5,27.68 L408.0,26.30 L408.5,24.91 L409.0,23.52 L409.5,22.13 L410.0,20.72 L410.5,19.32 L411.0,17.91 L411.5,16.50 L412.0,15.08 L412.5,13.66 L413.0,12.23 L413.5,10.80 L414.0,9.37 L414.5,7.93 L415.0,6.48 L415.5,5.03 L416.0,3.58 L416.5,2.12 L417.0,0.65 L417.5,-0.82 L418.0,-2.29" stroke="#00ff00" stroke-width="1.6" stroke-dasharray="3.0,1.2"/><path d="M239.0,305.99 L239.5,305.98 L240.0,305.97 L240.5,305.96 L241.0,305.95 L241.5,305.94 L242.0,305.93 L242.5,305.91 L243.0,305.90 L243.5,305.89 L244.0,305.88 L244.5,305.86 L245.0,305.85 L245.5,305.84 L246.0,305.82 L246.5,305.81 L247.0,305.79 L247.5,305.78 L248.0,305.76 L248.5,305.74 L249.0,305.73 L249.5,305.71 L250.0,305.69 L250.5,305.67 L251.0,305.65 L251.5,305.63 L252.0,305.61 L252.5,305.59 L253.0,305.57 L253.5,305.55 L254.0,305.53 L254.5,305.51 L255.0,305.48 L255.5,305.46 L256.0,305.43 L256.5,305.41 L257.0,305.38 L257.5,305.36 L258.0,305.33 L258.5,305.30 L259.0,305.27 L259.5,305.24 L260.0,305.21 L260.5,305.18 L261.0,305.15 L261.5,305.12 L262.0,305.09 L262.5,305.05 L263.0,305.02 L263.5,304.98 L264.0,304.94 L264.5,304.91 L265.0,304.87 L265.5,304.83 L266.0,304.79 L266.5,304.74 L267.0,304.70 L267.5,304.66 L268.0,304.61 L268.5,304.57 L269.0,304.52 L269.5,304.47 L270.0,304.42 L270.5,304.37 L271.0,304.32 L271.5,304.26 L272.0,304.21 L272.5,304.15 L273.0,304.10 L273.5,304.04 L274.0,303.98 L274.5,303.92 L275.0,303.85 L275.5,303.79 L276.0,303.72 L276.5,303.66 L277.0,303.59 L277.5,303.52 L278.0,303.44 L278.5,303.37 L279.0,303.29 L279.5,303.22 L280.0,303.14 L280.5,303.06 L281.0,302.98 L281.5,302.89 L282.0,302.80 L282.5,302.72 L283.0,302.63 L283.5,302.53 L284.0,302.44 L284.5,302.34 L285.0,302.25 L285.5,302.15 L286.0,302.04 L286.5,301.94 L287.0,301.83 L287.5,301.73 L288.0,301.61 L288.5,301.50 L289.0,301.39 L289.5,301.27 L290.0,301.15 L290.5,301.03 L291.0,300.90 L291.5,300.78 L292.0,300.65 L292.5,300.51 L293.0,300.38 L293.5,300.24 L294.0,300.10 L294.5,299.96 L295.0,299.82 L295.5,299.67 L296.0,299.52 L296.5,299.37 L297.0,299.22 L297.5,299.06 L298.0,298.90 L298.5,298.74 L299.0,298.57 L299.5,298.40 L300.0,298.23 L300.5,298.06 L301.0,297.88 L301.5,297.70 L302.0,297.52 L302.5,297.34 L303.0,297.15 L303.5,296.96 L304.0,296.77 L304.5,296.57 L305.0,296.38 L305.5,296.17 L306.0,295.97 L306.5,295.77 L307.0,295.56 L307.5,295.35 L308.0,295.13 L308.5,294.91 L309.0,294.70 L309.5,294.47 L310.0,294.25 L310.5,294.02 L311.0,293.79 L311.5,293.56 L312.0,293.33 L312.5,293.09 L313.0,292.85 L313.5,292.61 L314.0,292.36 L314.5,292.12 L315.0,291.87 L315.5,291.62 L316.0,291.36 L316.5,291.11 L317.0,290.85 L317.5,290.59 L318.0,290.33 L318.5,290.06 L319.0,289.80 L319.5,289.53 L320.0,289.26 L320.5,288.99 L321.0,288.72 L321.5,288.44 L322.0,288.16 L322.5,287.89 L323.0,287.61 L323.5,287.33 L324.0,287.04 L324.5,286.76 L325.0,286.48 L325.5,286.19 L326.0,285.90 L326.5,285.61 L327.0,285.32 L327.5,285.04 L328.0,284.74 L328.5,284.45 L329.0,284.16 L329.5,283.87 L330.0,283.57 L330.5,283.28 L331.0,282.99 L331.5,282.69 L332.0,282.40 L332.5,282.10 L333.0,281.81 L333.5,281.51 L334.0,281.21 L334.5,280.92 L335.0,280.62 L335.5,280.33 L336.0,280.04 L336.5,279.74 L337.0,279.45 L337.5,279.15 L338.0,278.86 L338.5,278.57 L339.0,278.28 L339.5,277.99 L340.0,277.70 L340.5,277.41 L341.0,277.12 L341.5,276.83 L342.0,276.55 L342.5,276.26 L343.0,275.98 L343.5,275.70 L344.0,275.42 L344.5,275.14 L345.0,274.86 L345.5,274.59 L346.0,274.31 L346.5,274.04 L347.0,273.77 L347.5,273.50 L348.0,273.23 L348.5,272.96 L349.0,272.70 L349.5,272.44 L350.0,272.18 L350.5,271.92 L351.0,271.66 L351.5,271.41 L352.0,271.15 L352.5,270.90 L353.0,270.66 L353.5,270.41 L354.0,270.17 L354.5,269.93 L355.0,269.69 L355.5,269.45 L356.0,269.22 L356.5,268.99 L357.0,268.76 L357.5,268.53 L358.0,268.31 L358.5,268.08 L359.0,267.86 L359.5,267.65 L360.0,267.43 L360.5,267.22 L361.0,267.01 L361.5,266.81 L362.0,266.60 L362.5,266.40 L363.0,266.20 L363.5,266.01 L364.0,265.82 L364.5,265.63 L365.0,265.44 L365.5,265.25 L366.0,265.07 L366.5,264.89 L367.0,264.71 L367.5,264.54 L368.0,264.37 L368.5,264.20 L369.0,264.03 L369.5,263.87 L370.0,263.71 L370.5,263.55 L371.0,263.40 L371.5,263.24 L372.0,263.09 L372.5,262.95 L373.0,262.80 L373.5,262.66 L374.0,262.52 L374.5,262.39 L375.0,262.25 L375.5,262.12 L376.0,261.99 L376.5,261.86 L377.0,261.74 L377.5,261.62 L378.0,261.50 L378.5,261.38 L379.0,261.27 L379.5,261.16 L380.0,261.05 L380.5,260.94 L381.0,260.84 L381.5,260.74 L382.0,260.64 L382.5,260.54 L383.0,260.44 L383.5,260.35 L384.0,260.26 L384.5,260.17 L385.0,260.09 L385.5,260.00 L386.0,259.92 L386.5,259.84 L387.0,259.76 L387.5,259.69 L388.0,259.62 L388.5,259.54 L389.0,259.47 L389.5,259.41 L390.0,259.34 L390.5,259.28 L391.0,259.22 L391.5,259.16 L392.0,259.10 L392.5,259.04 L393.0,258.98 L393.5,258.93 L394.0,258.88 L394.5,258.83 L395.0,258.78 L395.5,258.73 L396.0,258.69 L396.5,258.65 L397.0,258.60 L397.5,258.56 L398.0,258.52 L398.5,258.48 L399.0,258.45 L399.5,258.41 L400.0,258.38 L400.5,258.34 L401.0,258.31 L401.5,258.28 L402.0,258.25 L402.5,258.22 L403.0,258.20 L403.5,258.17 L404.0,258.14 L404.5,258.12 L405.0,258.10 L405.5,258.08 L406.0,258.05 L406.5,258.03 L407.0,258.01 L407.5,257.99 L408.0,257.98 L408.5,257.96 L409.0,257.94 L409.5,257.93 L410.0,257.91 L410.5,257.90 L411.0,257.88 L411.5,257.87 L412.0,257.86 L412.5,257.85 L413.0,257.84 L413.5,257.83 L414.0,257.82 L414.5,257.81 L415.0,257.80 L415.5,257.79 L416.0,257.78 L416.5,257.77 L417.0,257.76 L417.5,257.76 L418.0,257.75 L418.5,257.75 L419.0,257.74 L419.5,257.73 L420.0,257.73 L420.5,257.72 L421.0,257.72 L421.5,257.71 L422.0,257.71 L422.5,257.71 L423.0,257.70 L423.5,257.70 L424.0,257.70 L424.5,257.69 L425.0,257.69 L425.5,257.69 L426.0,257.69 L426.5,257.68 L427.0,257.68 L427.5,257.68 L428.0,257.68 L428.5,257.68 L429.0,257.67 L429.5,257.67 L430.0,257.67 L430.5,257.67 L431.0,257.67 L431.5,257.67 L432.0,257.67 L432.5,257.67 L433.0,257.66 L433.5,257.66 L434.0,257.66 L434.5,257.66 L435.0,257.66 L435.5,257.66 L436.0,257.66 L436.5,257.66 L437.0,257.66 L437.5,257.66 L438.0,257.66 L438.5,257.66 L439.0,257.66 L439.5,257.66 L440.0,257.66 L440.5,257.66 L441.0,257.66 L441.5,257.66 L442.0,257.66 L442.5,257.66 L443.0,257.66 L443.5,257.66 L444.0,257.66 L444.5,257.66 L445.0,257.66 L445.5,257.66 L446.0,257.66 L446.5,257.66 L447.0,257.66 L447.5,257.66 L448.0,257.66 L448.5,257.66 L449.0,257.66 L449.5,257.66 L450.0,257.66 L450.5,257.66 L451.0,257.66 L451.5,257.66 L452.0,257.66 L452.5,257.66 L453.0,257.66 L453.5,257.66 L454.0,257.66 L454.5,257.66 L455.0,257.66 L455.5,257.66 L456.0,257.66 L456.5,257.66 L457.0,257.66 L457.5,257.66 L458.0,257.66 L458.5,257.66 L459.0,257.66 L459.5,257.66 L460.0,257.66 L460.5,257.66 L461.0,257.66 L461.5,257.66 L462.0,257.66 L462.5,257.66 L463.0,257.66 L463.5,257.66 L464.0,257.66 L464.5,257.66 L465.0,257.66" stroke="#0000ff" stroke-width="1.6"/><path d="M253.5,305.98 L254.0,305.97 L254.5,305.95 L255.0,305.93 L255.5,305.91 L256.0,305.89 L256.5,305.86 L257.0,305.84 L257.5,305.82 L258.0,305.79 L258.5,305.77 L259.0,305.74 L259.5,305.71 L260.0,305.68 L260.5,305.65 L261.0,305.62 L261.5,305.59 L262.0,305.56 L262.5,305.52 L263.0,305.48 L263.5,305.45 L264.0,305.41 L264.5,305.37 L265.0,305.32 L265.5,305.28 L266.0,305.23 L266.5,305.19 L267.0,305.14 L267.5,305.09 L268.0,305.03 L268.5,304.98 L269.0,304.92 L269.5,304.87 L270.0,304.81 L270.5,304.74 L271.0,304.68 L271.5,304.61 L272.0,304.55 L272.5,304.47 L273.0,304.40 L273.5,304.33 L274.0,304.25 L274.5,304.17 L275.0,304.09 L275.5,304.00 L276.0,303.91 L276.5,303.82 L277.0,303.73 L277.5,303.63 L278.0,303.53 L278.5,303.43 L279.0,303.32 L279.5,303.22 L280.0,303.10 L280.5,302.99 L281.0,302.87 L281.5,302.75 L282.0,302.63 L282.5,302.50 L283.0,302.37 L283.5,302.23 L284.0,302.09 L284.5,301.95 L285.0,301.80 L285.5,301.65 L286.0,301.50 L286.5,301.34 L287.0,301.18 L287.5,301.01 L288.0,300.84 L288.5,300.66 L289.0,300.49 L289.5,300.30 L290.0,300.11 L290.5,299.92 L291.0,299.73 L291.5,299.52 L292.0,299.32 L292.5,299.11 L293.0,298.89 L293.5,298.67 L294.0,298.45 L294.5,298.21 L295.0,297.98 L295.5,297.74 L296.0,297.49 L296.5,297.24 L297.0,296.99 L297.5,296.72 L298.0,296.46 L298.5,296.19 L299.0,295.91 L299.5,295.62 L300.0,295.34 L300.5,295.04 L301.0,294.74 L301.5,294.43 L302.0,294.12 L302.5,293.81 L303.0,293.48 L303.5,293.15 L304.0,292.82 L304.5,292.48 L305.0,292.13 L305.5,291.78 L306.0,291.42 L306.5,291.05 L307.0,290.68 L307.5,290.30 L308.0,289.92 L308.5,289.53 L309.0,289.13 L309.5,288.73 L310.0,288.32 L310.5,287.90 L311.0,287.48 L311.5,287.05 L312.0,286.61 L312.5,286.17 L313.0,285.72 L313.5,285.27 L314.0,284.81 L314.5,284.34 L315.0,283.86 L315.5,283.38 L316.0,282.89 L316.5,282.40 L317.0,281.90 L317.5,281.39 L318.0,280.87 L318.5,280.35 L319.0,279.83 L319.5,279.29 L320.0,278.75 L320.5,278.20 L321.0,277.65 L321.5,277.08 L322.0,276.52 L322.5,275.94 L323.0,275.36 L323.5,274.77 L324.0,274.18 L324.5,273.58 L325.0,272.97 L325.5,272.35 L326.0,271.73 L326.5,271.10 L327.0,270.47 L327.5,269.83 L328.0,269.18 L328.5,268.53 L329.0,267.87 L329.5,267.20 L330.0,266.52 L330.5,265.84 L331.0,265.16 L331.5,264.46 L332.0,263.76 L332.5,263.06 L333.0,262.35 L333.5,261.63 L334.0,260.90 L334.5,260.17 L335.0,259.43 L335.5,258.69 L336.0,257.94 L336.5,257.19 L337.0,256.42 L337.5,255.66 L338.0,254.88 L338.5,254.10 L339.0,253.32 L339.5,252.52 L340.0,251.73 L340.5,250.92 L341.0,250.11 L341.5,249.30 L342.0,248.48 L342.5,247.65 L343.0,246.82 L343.5,245.98 L344.0,245.13 L344.5,244.29 L345.0,243.43 L345.5,242.57 L346.0,241.70 L346.5,240.83 L347.0,239.96 L347.5,239.07 L348.0,238.19 L348.5,237.30 L349.0,236.40 L349.5,235.50 L350.0,234.59 L350.5,233.68 L351.0,232.76 L351.5,231.83 L352.0,230.91 L352.5,229.97 L353.0,229.04 L353.5,228.09 L354.0,227.15 L354.5,226.20 L355.0,225.24 L355.5,224.28 L356.0,223.31 L356.5,222.34 L357.0,221.37 L357.5,220.39 L358.0,219.41 L358.5,218.42 L359.0,217.43 L359.5,216.43 L360.0,215.43 L360.5,214.42 L361.0,213.41 L361.5,212.40 L362.0,211.38 L362.5,210.36 L363.0,209.34 L363.5,208.31 L364.0,207.27 L364.5,206.24 L365.0,205.19 L365.5,204.15 L366.0,203.10 L366.5,202.05 L367.0,200.99 L367.5,199.93 L368.0,198.87 L368.5,197.80 L369.0,196.73 L369.5,195.65 L370.0,194.58 L370.5,193.49 L371.0,192.41 L371.5,191.32 L372.0,190.23 L372.5,189.13 L373.0,188.04 L373.5,186.93 L374.0,185.83 L374.5,184.72 L375.0,183.61 L375.5,182.50 L376.0,181.38 L376.5,180.26 L377.0,179.13 L377.5,178.01 L378.0,176.88 L378.5,175.74 L379.0,174.61 L379.5,173.47 L380.0,172.33 L380.5,171.18 L381.0,170.04 L381.5,168.88 L382.0,167.73 L382.5,166.58 L383.0,165.42 L383.5,164.25 L384.0,163.09 L384.5,161.92 L385.0,160.75 L385.5,159.58 L386.0,158.41 L386.5,157.23 L387.0,156.05 L387.5,154.86 L388.0,153.68 L388.5,152.49 L389.0,151.30 L389.5,150.11 L390.0,148.91 L390.5,147.71 L391.0,146.51 L391.5,145.31 L392.0,144.10 L392.5,142.89 L393.0,141.68 L393.5,140.47 L394.0,139.25 L394.5,138.03 L395.0,136.81 L395.5,135.59 L396.0,134.36 L396.5,133.13 L397.0,131.90 L397.5,130.67 L398.0,129.43 L398.5,128.20 L399.0,126.96 L399.5,125.71 L400.0,124.47 L400.5,123.22 L401.0,121.97 L401.5,120.72 L402.0,119.47 L402.5,118.21 L403.0,116.95 L403.5,115.69 L404.0,114.43 L404.5,113.16 L405.0,111.89 L405.5,110.62 L406.0,109.35 L406.5,108.07 L407.0,106.80 L407.5,105.52 L408.0,104.23 L408.5,102.95 L409.0,101.66 L409.5,100.37 L410.0,99.08 L410.5,97.79 L411.0,96.49 L411.5,95.19 L412.0,93.89 L412.5,92.59 L413.0,91.28 L413.5,89.97 L414.0,88.66 L414.5,87.35 L415.0,86.03 L415.5,84.71 L416.0,83.39 L416.5,82.07 L417.0,80.74 L417.5,79.42 L418.0,78.09 L418.5,76.75 L419.0,75.42 L419.5,74.08 L420.0,72.74 L420.5,71.40 L421.0,70.05 L421.5,68.71 L422.0,67.36 L422.5,66.00 L423.0,64.65 L423.5,63.29 L424.0,61.93 L424.5,60.57 L425.0,59.20 L425.5,57.83 L426.0,56.46 L426.5,55.09 L427.0,53.71 L427.5,52.33 L428.0,50.95 L428.5,49.57 L429.0,48.18 L429.5,46.79 L430.0,45.40 L430.5,44.00 L431.0,42.60 L431.5,41.20 L432.0,39.80 L432.5,38.39 L433.0,36.98 L433.5,35.57 L434.0,34.16 L434.5,32.74 L435.0,31.32 L435.5,29.89 L436.0,28.47 L436.5,27.04 L437.0,25.61 L437.5,24.17 L438.0,22.73 L438.5,21.29 L439.0,19.84 L439.5,18.40 L440.0,16.95 L440.5,15.49 L441.0,14.04 L441.5,12.58 L442.0,11.11 L442.5,9.65 L443.0,8.18 L443.5,6.70 L444.0,5.23 L444.5,3.75 L445.0,2.26 L445.5,0.78 L446.0,-0.71 L446.5,-2.20" stroke="#0000ff" stroke-width="1.6" stroke-dasharray="3.0,1.2"/><path d="M288.0,305.98 L288.5,305.97 L289.0,305.95 L289.5,305.93 L290.0,305.91 L290.5,305.89 L291.0,305.87 L291.5,305.85 L292.0,305.83 L292.5,305.80 L293.0,305.78 L293.5,305.75 L294.0,305.73 L294.5,305.70 L295.0,305.67 L295.5,305.64 L296.0,305.61 L296.5,305.58 L297.0,305.54 L297.5,305.51 L298.0,305.47 L298.5,305.43 L299.0,305.39 L299.5,305.35 L300.0,305.31 L300.5,305.27 L301.0,305.22 L301.5,305.18 L302.0,305.13 L302.5,305.08 L303.0,305.03 L303.5,304.97 L304.0,304.92 L304.5,304.86 L305.0,304.80 L305.5,304.74 L306.0,304.68 L306.5,304.62 L307.0,304.55 L307.5,304.48 L308.0,304.41 L308.5,304.34 L309.0,304.26 L309.5,304.19 L310.0,304.11 L310.5,304.03 L311.0,303.95 L311.5,303.86 L312.0,303.77 L312.5,303.68 L313.0,303.59 L313.5,303.50 L314.0,303.40 L314.5,303.31 L315.0,303.21 L315.5,303.10 L316.0,303.00 L316.5,302.89 L317.0,302.78 L317.5,302.67 L318.0,302.56 L318.5,302.45 L319.0,302.33 L319.5,302.21 L320.0,302.09 L320.5,301.97 L321.0,301.84 L321.5,301.72 L322.0,301.59 L322.5,301.46 L323.0,301.33 L323.5,301.19 L324.0,301.06 L324.5,300.92 L325.0,300.78 L325.5,300.64 L326.0,300.50 L326.5,300.36 L327.0,300.22 L327.5,300.07 L328.0,299.93 L328.5,299.78 L329.0,299.63 L329.5,299.48 L330.0,299.33 L330.5,299.18 L331.0,299.03 L331.5,298.88 L332.0,298.72 L332.5,298.57 L333.0,298.41 L333.5,298.26 L334.0,298.10 L334.5,297.95 L335.0,297.79 L335.5,297.63 L336.0,297.48 L336.5,297.32 L337.0,297.16 L337.5,297.00 L338.0,296.85 L338.5,296.69 L339.0,296.53 L339.5,296.37 L340.0,296.21 L340.5,296.06 L341.0,295.90 L341.5,295.74 L342.0,295.59 L342.5,295.43 L343.0,295.27 L343.5,295.12 L344.0,294.96 L344.5,294.81 L345.0,294.65 L345.5,294.50 L346.0,294.35 L346.5,294.19 L347.0,294.04 L347.5,293.89 L348.0,293.74 L348.5,293.59 L349.0,293.44 L349.5,293.29 L350.0,293.14 L350.5,293.00 L351.0,292.85 L351.5,292.70 L352.0,292.56 L352.5,292.42 L353.0,292.27 L353.5,292.13 L354.0,291.99 L354.5,291.85 L355.0,291.71 L355.5,291.57 L356.0,291.43 L356.5,291.30 L357.0,291.16 L357.5,291.03 L358.0,290.90 L358.5,290.76 L359.0,290.63 L359.5,290.50 L360.0,290.37 L360.5,290.25 L361.0,290.12 L361.5,289.99 L362.0,289.87 L362.5,289.75 L363.0,289.62 L363.5,289.50 L364.0,289.38 L364.5,289.27 L365.0,289.15 L365.5,289.03 L366.0,288.92 L366.5,288.80 L367.0,288.69 L367.5,288.58 L368.0,288.47 L368.5,288.36 L369.0,288.26 L369.5,288.15 L370.0,288.05 L370.5,287.94 L371.0,287.84 L371.5,287.74 L372.0,287.64 L372.5,287.55 L373.0,287.45 L373.5,287.36 L374.0,287.26 L374.5,287.17 L375.0,287.08 L375.5,286.99 L376.0,286.91 L376.5,286.82 L377.0,286.73 L377.5,286.65 L378.0,286.57 L378.5,286.49 L379.0,286.41 L379.5,286.33 L380.0,286.26 L380.5,286.18 L381.0,286.11 L381.5,286.04 L382.0,285.97 L382.5,285.90 L383.0,285.83 L383.5,285.77 L384.0,285.70 L384.5,285.64 L385.0,285.58 L385.5,285.52 L386.0,285.46 L386.5,285.40 L387.0,285.35 L387.5,285.29 L388.0,285.24 L388.5,285.19 L389.0,285.14 L389.5,285.09 L390.0,285.04 L390.5,284.99 L391.0,284.95 L391.5,284.90 L392.0,284.86 L392.5,284.82 L393.0,284.78 L393.5,284.74 L394.0,284.70 L394.5,284.67 L395.0,284.63 L395.5,284.60 L396.0,284.56 L396.5,284.53 L397.0,284.50 L397.5,284.47 L398.0,284.44 L398.5,284.42 L399.0,284.39 L399.5,284.36 L400.0,284.34 L400.5,284.32 L401.0,284.29 L401.5,284.27 L402.0,284.25 L402.5,284.23 L403.0,284.21 L403.5,284.19 L404.0,284.18 L404.5,284.16 L405.0,284.14 L405.5,284.13 L406.0,284.11 L406.5,284.10 L407.0,284.09 L407.5,284.08 L408.0,284.06 L408.5,284.05 L409.0,284.04 L409.5,284.03 L410.0,284.02 L410.5,284.01 L411.0,284.00 L411.5,284.00 L412.0,283.99 L412.5,283.98 L413.0,283.97 L413.5,283.97 L414.0,283.96 L414.5,283.96 L415.0,283.95 L415.5,283.95 L416.0,283.94 L416.5,283.94 L417.0,283.93 L417.5,283.93 L418.0,283.93 L418.5,283.92 L419.0,283.92 L419.5,283.92 L420.0,283.91 L420.5,283.91 L421.0,283.91 L421.5,283.91 L422.0,283.91 L422.5,283.90 L423.0,283.90 L423.5,283.90 L424.0,283.90 L424.5,283.90 L425.0,283.90 L425.5,283.90 L426.0,283.90 L426.5,283.89 L427.0,283.89 L427.5,283.89 L428.0,283.89 L428.5,283.89 L429.0,283.89 L429.5,283.89 L430.0,283.89 L430.5,283.89 L431.0,283.89 L431.5,283.89 L432.0,283.89 L432.5,283.89 L433.0,283.89 L433.5,283.89 L434.0,283.89 L434.5,283.89 L435.0,283.89 L435.5,283.89 L436.0,283.89 L436.5,283.89 L437.0,283.89 L437.5,283.89 L438.0,283.89 L438.5,283.89 L439.0,283.89 L439.5,283.89 L440.0,283.89 L440.5,283.89 L441.0,283.89 L441.5,283.89 L442.0,283.89 L442.5,283.89 L443.0,283.89 L443.5,283.89 L444.0,283.89 L444.5,283.89 L445.0,283.89 L445.5,283.89 L446.0,283.89 L446.5,283.89 L447.0,283.89 L447.5,283.89 L448.0,283.89 L448.5,283.89 L449.0,283.89 L449.5,283.89 L450.0,283.89 L450.5,283.89 L451.0,283.89 L451.5,283.89 L452.0,283.89 L452.5,283.89 L453.0,283.89 L453.5,283.89 L454.0,283.89 L454.5,283.89 L455.0,283.89 L455.5,283.89 L456.0,283.89 L456.5,283.89 L457.0,283.89 L457.5,283.89 L458.0,283.89 L458.5,283.89 L459.0,283.89 L459.5,283.89 L460.0,283.89 L460.5,283.89 L461.0,283.89 L461.5,283.89 L462.0,283.89 L462.5,283.89 L463.0,283.89 L463.5,283.89 L464.0,283.89 L464.5,283.89 L465.0,283.89" stroke="#ff00ff" stroke-width="1.6"/><path d="M282.0,306.00 L282.5,305.98 L283.0,305.96 L283.5,305.94 L284.0,305.91 L284.5,305.89 L285.0,305.86 L285.5,305.84 L286.0,305.81 L286.5,305.78 L287.0,305.76 L287.5,305.73 L288.0,305.69 L288.5,305.66 L289.0,305.63 L289.5,305.59 L290.0,305.55 L290.5,305.52 L291.0,305.47 L291.5,305.43 L292.0,305.39 L292.5,305.34 L293.0,305.30 L293.5,305.25 L294.0,305.20 L294.5,305.15 L295.0,305.09 L295.5,305.04 L296.0,304.98 L296.5,304.92 L297.0,304.85 L297.5,304.79 L298.0,304.72 L298.5,304.65 L299.0,304.58 L299.5,304.51 L300.0,304.43 L300.5,304.35 L301.0,304.27 L301.5,304.18 L302.0,304.10 L302.5,304.01 L303.0,303.91 L303.5,303.82 L304.0,303.72 L304.5,303.62 L305.0,303.51 L305.5,303.40 L306.0,303.29 L306.5,303.18 L307.0,303.06 L307.5,302.94 L308.0,302.82 L308.5,302.69 L309.0,302.56 L309.5,302.42 L310.0,302.28 L310.5,302.14 L311.0,301.99 L311.5,301.84 L312.0,301.69 L312.5,301.53 L313.0,301.37 L313.5,301.20 L314.0,301.03 L314.5,300.85 L315.0,300.67 L315.5,300.49 L316.0,300.30 L316.5,300.11 L317.0,299.91 L317.5,299.71 L318.0,299.50 L318.5,299.29 L319.0,299.08 L319.5,298.86 L320.0,298.63 L320.5,298.40 L321.0,298.16 L321.5,297.92 L322.0,297.68 L322.5,297.43 L323.0,297.17 L323.5,296.91 L324.0,296.64 L324.5,296.37 L325.0,296.09 L325.5,295.81 L326.0,295.52 L326.5,295.23 L327.0,294.93 L327.5,294.62 L328.0,294.31 L328.5,293.99 L329.0,293.67 L329.5,293.34 L330.0,293.01 L330.5,292.67 L331.0,292.32 L331.5,291.97 L332.0,291.61 L332.5,291.24 L333.0,290.87 L333.5,290.50 L334.0,290.11 L334.5,289.72 L335.0,289.33 L335.5,288.93 L336.0,288.52 L336.5,288.11 L337.0,287.68 L337.5,287.26 L338.0,286.82 L338.5,286.38 L339.0,285.94 L339.5,285.49 L340.0,285.03 L340.5,284.56 L341.0,284.09 L341.5,283.61 L342.0,283.12 L342.5,282.63 L343.0,282.13 L343.5,281.63 L344.0,281.12 L344.5,280.60 L345.0,280.07 L345.5,279.54 L346.0,279.00 L346.5,278.46 L347.0,277.91 L347.5,277.35 L348.0,276.78 L348.5,276.21 L349.0,275.63 L349.5,275.05 L350.0,274.46 L350.5,273.86 L351.0,273.25 L351.5,272.64 L352.0,272.02 L352.5,271.40 L353.0,270.77 L353.5,270.13 L354.0,269.48 L354.5,268.83 L355.0,268.17 L355.5,267.51 L356.0,266.84 L356.5,266.16 L357.0,265.47 L357.5,264.78 L358.0,264.09 L358.5,263.38 L359.0,262.67 L359.5,261.95 L360.0,261.23 L360.5,260.50 L361.0,259.76 L361.5,259.02 L362.0,258.27 L362.5,257.51 L363.0,256.75 L363.5,255.98 L364.0,255.21 L364.5,254.43 L365.0,253.64 L365.5,252.84 L366.0,252.04 L366.5,251.24 L367.0,250.43 L367.5,249.61 L368.0,248.78 L368.5,247.95 L369.0,247.11 L369.5,246.27 L370.0,245.42 L370.5,244.57 L371.0,243.71 L371.5,242.84 L372.0,241.97 L372.5,241.09 L373.0,240.20 L373.5,239.31 L374.0,238.42 L374.5,237.52 L375.0,236.61 L375.5,235.70 L376.0,234.78 L376.5,233.85 L377.0,232.92 L377.5,231.99 L378.0,231.05 L378.5,230.10 L379.0,229.15 L379.5,228.19 L380.0,227.23 L380.5,226.26 L381.0,225.29 L381.5,224.31 L382.0,223.33 L382.5,222.34 L383.0,221.35 L383.5,220.35 L384.0,219.34 L384.5,218.33 L385.0,217.32 L385.5,216.30 L386.0,215.28 L386.5,214.25 L387.0,213.22 L387.5,212.18 L388.0,211.13 L388.5,210.09 L389.0,209.03 L389.5,207.97 L390.0,206.91 L390.5,205.85 L391.0,204.77 L391.5,203.70 L392.0,202.62 L392.5,201.53 L393.0,200.44 L393.5,199.35 L394.0,198.25 L394.5,197.15 L395.0,196.04 L395.5,194.93 L396.0,193.82 L396.5,192.70 L397.0,191.57 L397.5,190.44 L398.0,189.31 L398.5,188.18 L399.0,187.04 L399.5,185.89 L400.0,184.74 L400.5,183.59 L401.0,182.44 L401.5,181.28 L402.0,180.11 L402.5,178.94 L403.0,177.77 L403.5,176.60 L404.0,175.42 L404.5,174.23 L405.0,173.05 L405.5,171.86 L406.0,170.66 L406.5,169.47 L407.0,168.27 L407.5,167.06 L408.0,165.85 L408.5,164.64 L409.0,163.43 L409.5,162.21 L410.0,160.99 L410.5,159.76 L411.0,158.53 L411.5,157.30 L412.0,156.07 L412.5,154.83 L413.0,153.58 L413.5,152.34 L414.0,151.09 L414.5,149.84 L415.0,148.58 L415.5,147.33 L416.0,146.07 L416.5,144.80 L417.0,143.53 L417.5,142.26 L418.0,140.99 L418.5,139.71 L419.0,138.43 L419.5,137.15 L420.0,135.87 L420.5,134.58 L421.0,133.29 L421.5,131.99 L422.0,130.69 L422.5,129.39 L423.0,128.09 L423.5,126.79 L424.0,125.48 L424.5,124.17 L425.0,122.85 L425.5,121.53 L426.0,120.21 L426.5,118.89 L427.0,117.57 L427.5,116.24 L428.0,114.91 L428.5,113.57 L429.0,112.24 L429.5,110.90 L430.0,109.56 L430.5,108.21 L431.0,106.86 L431.5,105.51 L432.0,104.16 L432.5,102.81 L433.0,101.45 L433.5,100.09 L434.0,98.73 L434.5,97.36 L435.0,95.99 L435.5,94.62 L436.0,93.25 L436.5,91.87 L437.0,90.50 L437.5,89.12 L438.0,87.73 L438.5,86.35 L439.0,84.96 L439.5,83.57 L440.0,82.17 L440.5,80.78 L441.0,79.38 L441.5,77.98 L442.0,76.57 L442.5,75.17 L443.0,73.76 L443.5,72.35 L444.0,70.94 L444.5,69.52 L445.0,68.10 L445.5,66.68 L446.0,65.26 L446.5,63.83 L447.0,62.40 L447.5,60.97 L448.0,59.54 L448.5,58.11 L449.0,56.67 L449.5,55.23 L450.0,53.78 L450.5,52.34 L451.0,50.89 L451.5,49.44 L452.0,47.99 L452.5,46.53 L453.0,45.07 L453.5,43.61 L454.0,42.15 L454.5,40.69 L455.0,39.22 L455.5,37.75 L456.0,36.28 L456.5,34.80 L457.0,33.32 L457.5,31.84 L458.0,30.36 L458.5,28.87 L459.0,27.39 L459.5,25.90 L460.0,24.40 L460.5,22.91 L461.0,21.41 L461.5,19.91 L462.0,18.41 L462.5,16.90 L463.0,15.39 L463.5,13.88 L464.0,12.37 L464.5,10.85 L465.0,9.33" stroke="#ff00ff" stroke-width="1.6" stroke-dasharray="3.0,1.2"/></g><rect x="43.0" y="5.65" width="422.2" height="300.70000000000005" fill="none" stroke="#000" stroke-width="1.4"/><path d="M100,307.30 H345" stroke="#b9a0dc" stroke-width="0.6" opacity="0.7"/><path d="M168,305.40 H205" stroke="#7fe07f" stroke-width="0.6" opacity="0.7"/><path d="M82.6,14.90 H110" stroke="#ff0000" stroke-width="1.6"/><path d="M82.6,24.40 H110" stroke="#00ff00" stroke-width="1.6"/><path d="M82.6,33.90 H110" stroke="#0000ff" stroke-width="1.6"/><path d="M82.6,43.40 H110" stroke="#ff00ff" stroke-width="1.6"/></svg>
<div class="yl" style="top:301.95px">0</div>
<div class="yl" style="top:264.36px">0.05</div>
<div class="yl" style="top:226.78px">0.1</div>
<div class="yl" style="top:189.19px">0.15</div>
<div class="yl" style="top:151.60px">0.2</div>
<div class="yl" style="top:114.01px">0.25</div>
<div class="yl" style="top:76.42px">0.3</div>
<div class="yl" style="top:38.84px">0.35</div>
<div class="yl" style="top:1.25px">0.4</div>
<div class="xl" style="left:23.90px">0.001</div>
<div class="xl" style="left:122.06px">0.01</div>
<div class="xl" style="left:220.23px">0.1</div>
<div class="xl" style="left:318.39px">1</div>
<div class="xl" style="left:416.55px">10</div>
<div class="lg" style="top:10.40px"><span class="it">n</span> = 2</div>
<div class="lg" style="top:19.90px"><span class="it">n</span> = 3</div>
<div class="lg" style="top:29.40px"><span class="it">n</span> = 4</div>
<div class="lg" style="top:38.90px"><span class="it">n</span> = 5</div>
<div class="it" style="position:absolute;left:248.8px;top:325.3px;width:10px;text-align:center;font-size:11px;line-height:12px;transform:rotate(0.02deg)">t</div>
<div style="position:absolute;left:-16.8px;top:149.9px;width:40px;height:12px;line-height:12px;text-align:center;transform:rotate(-90deg);transform-origin:center center;white-space:nowrap;font-size:10.5px"><span class="it" style="font-size:11px">x</span><span class="it" style="font-size:8px;position:relative;top:3.5px">n</span>(<span class="it" style="font-size:11px;margin:0 0.3px">t</span>)</div>
</div></body></html>
